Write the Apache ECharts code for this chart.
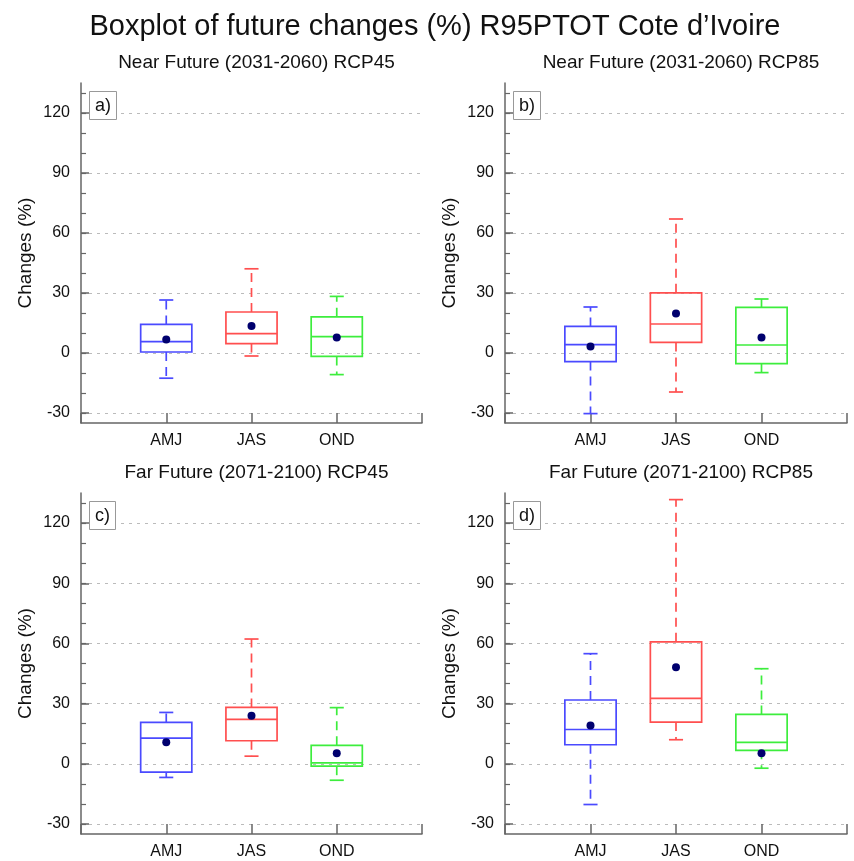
<!DOCTYPE html>
<html>
<head>
<meta charset="utf-8">
<script src="https://cdn.jsdelivr.net/npm/echarts@6/dist/echarts.min.js"></script>
<style>html,body{margin:0;padding:0;background:#fff;}#c{width:854px;height:861px;}</style>
</head>
<body>
<div id="c"></div>
<script>
// ---- data ----
const seasons = ['AMJ', 'JAS', 'OND'];
const xCats = ['', 'AMJ', 'JAS', 'OND', ' '];
const yTicks = [-30, 0, 30, 60, 90, 120];
const yMinorTicks = [-30, -20, -10, 0, 10, 20, 30, 40, 50, 60, 70, 80, 90, 100, 110, 120, 130];
const yMin = -35, yMax = 135;

const mainTitle = 'Boxplot of future changes (%) R95PTOT Cote d\u2019Ivoire';
const panelTitles = ['Near Future (2031-2060) RCP45', 'Near Future (2031-2060) RCP85',
                     'Far Future (2071-2100) RCP45', 'Far Future (2071-2100) RCP85'];
const panelLabels = ['a)', 'b)', 'c)', 'd)'];

// box stats: [min, Q1, median, Q3, max] per season
const nf45Box = [[-12.6, 0.5, 5.7, 14.3, 26.5], [-1.5, 4.7, 9.7, 20.5, 42.1], [-10.8, -1.7, 8.2, 18.1, 28.3]];
const nf45Mean = [6.7, 13.5, 7.7];
const nf85Box = [[-30.3, -4.3, 4.2, 13.3, 23.0], [-19.5, 5.3, 14.5, 30.1, 67.0], [-9.8, -5.3, 4.0, 22.8, 27.0]];
const nf85Mean = [3.2, 19.8, 7.7];
const ff45Box = [[-6.8, -4.2, 12.8, 20.6, 25.6], [3.8, 11.5, 22.1, 28.1, 62.2], [-8.2, -1.2, 0.5, 9.2, 28.0]];
const ff45Mean = [10.7, 24.0, 5.2];
const ff85Box = [[-20.3, 9.5, 17.1, 31.8, 54.9], [12.0, 20.8, 32.6, 60.8, 131.7], [-2.2, 6.7, 10.7, 24.6, 47.4]];
const ff85Mean = [19.1, 48.1, 5.2];

const panelBoxes = [nf45Box, nf85Box, ff45Box, ff85Box];
const panelMeans = [nf45Mean, nf85Mean, ff45Mean, ff85Mean];
const seasonColors = ['#4a4aff', '#ff4f4f', '#3ded3d'];

// ---- layout ----
const grids = [
  {left: 81, top: 83, width: 341, height: 340},
  {left: 505, top: 83, width: 342, height: 340},
  {left: 81, top: 493, width: 341, height: 341},
  {left: 505, top: 493, width: 342, height: 341}
];
const FONT = 'Liberation Sans, Arial, Helvetica, sans-serif';
const axisColor = '#666';

const option = {
  backgroundColor: '#fff',
  animation: false,
  textStyle: {fontFamily: FONT},
  title: [],
  grid: [],
  xAxis: [],
  yAxis: [],
  series: []
};

option.title.push({
  text: mainTitle, left: 430, top: 7, textAlign: 'center',
  textStyle: {fontFamily: FONT, fontSize: 29, fontWeight: 'normal', color: '#111'}
});

grids.forEach((g, i) => {
  option.grid.push(Object.assign({containLabel: false}, g));
  option.title.push({
    text: panelTitles[i], left: g.left + g.width / 2, top: g.top - 35, textAlign: 'center',
    textStyle: {fontFamily: FONT, fontSize: 19, fontWeight: 'normal', color: '#111'}
  });
  option.title.push({
    text: panelLabels[i], left: g.left + 8, top: g.top + 8,
    padding: [6, 6, 5, 6], borderColor: '#999', borderWidth: 1, backgroundColor: '#fff',
    textStyle: {fontFamily: FONT, fontSize: 18, fontWeight: 'normal', color: '#111'}
  });
  option.xAxis.push({
    type: 'category', gridIndex: i, data: xCats, boundaryGap: false,
    axisLine: {show: true, onZero: false, lineStyle: {color: axisColor, width: 1.5}},
    axisTick: {show: true, inside: true, length: 10, lineStyle: {color: axisColor, width: 1.5}},
    axisLabel: {fontFamily: FONT, fontSize: 16, color: '#111', margin: 10},
    splitLine: {show: false}
  });
  option.yAxis.push({
    type: 'value', gridIndex: i, min: yMin, max: yMax, position: 'left',
    name: 'Changes (%)', nameLocation: 'middle', nameGap: 46,
    nameTextStyle: {fontFamily: FONT, fontSize: 19, color: '#111'},
    axisLine: {show: true, lineStyle: {color: axisColor, width: 1.5}},
    axisTick: {show: true, inside: true, length: 8, customValues: yTicks, lineStyle: {color: axisColor, width: 1.5}},
    axisLabel: {fontFamily: FONT, fontSize: 16, color: '#111', margin: 11, customValues: yTicks},
    splitLine: {show: true, lineStyle: {color: '#bbb', type: [3, 5], width: 1}}
  });
  option.yAxis.push({
    type: 'value', gridIndex: i, min: yMin, max: yMax, position: 'left', offset: 0,
    axisLine: {show: false},
    axisTick: {show: true, inside: true, length: 5, customValues: yMinorTicks, lineStyle: {color: axisColor, width: 1.2}},
    axisLabel: {show: false},
    splitLine: {show: false}
  });

  const boxData = panelBoxes[i].map((b, k) => [seasons[k]].concat(b));
  option.series.push({
    type: 'custom', xAxisIndex: i, yAxisIndex: 2 * i,
    encode: {x: 0, y: [1, 2, 3, 4, 5]},
    data: boxData,
    z: 5,
    renderItem: function (params, api) {
      const xv = api.value(0);
      const idx = params.dataIndex;
      const col = seasonColors[idx];
      const band = api.size([1, 0])[0];
      const bw = band * 0.6, cw = band * 0.165;
      const pMin = api.coord([xv, api.value(1)]);
      const pQ1 = api.coord([xv, api.value(2)]);
      const pMed = api.coord([xv, api.value(3)]);
      const pQ3 = api.coord([xv, api.value(4)]);
      const pMax = api.coord([xv, api.value(5)]);
      const cx = pMed[0];
      const solid = {stroke: col, lineWidth: 1.7, fill: null};
      const dashed = {stroke: col, lineWidth: 1.7, lineDash: [9, 6], fill: null};
      return {
        type: 'group',
        children: [
          {type: 'line', shape: {x1: cx, y1: pQ3[1], x2: cx, y2: pMax[1]}, style: dashed},
          {type: 'line', shape: {x1: cx, y1: pQ1[1], x2: cx, y2: pMin[1]}, style: dashed},
          {type: 'line', shape: {x1: cx - cw / 2, y1: pMax[1], x2: cx + cw / 2, y2: pMax[1]}, style: solid},
          {type: 'line', shape: {x1: cx - cw / 2, y1: pMin[1], x2: cx + cw / 2, y2: pMin[1]}, style: solid},
          {type: 'rect', shape: {x: cx - bw / 2, y: pQ3[1], width: bw, height: pQ1[1] - pQ3[1]}, style: {stroke: col, lineWidth: 1.7, fill: 'rgba(255,255,255,0)'}},
          {type: 'line', shape: {x1: cx - bw / 2, y1: pMed[1], x2: cx + bw / 2, y2: pMed[1]}, style: solid}
        ]
      };
    }
  });
  option.series.push({
    type: 'scatter', xAxisIndex: i, yAxisIndex: 2 * i,
    data: panelMeans[i].map((m, k) => [seasons[k], m]),
    symbol: 'circle', symbolSize: 8, z: 10,
    itemStyle: {color: '#00006e', opacity: 1}
  });
});

const chart = echarts.init(document.getElementById('c'), null, {renderer: 'canvas'});
chart.setOption(option);
</script>
</body>
</html>
